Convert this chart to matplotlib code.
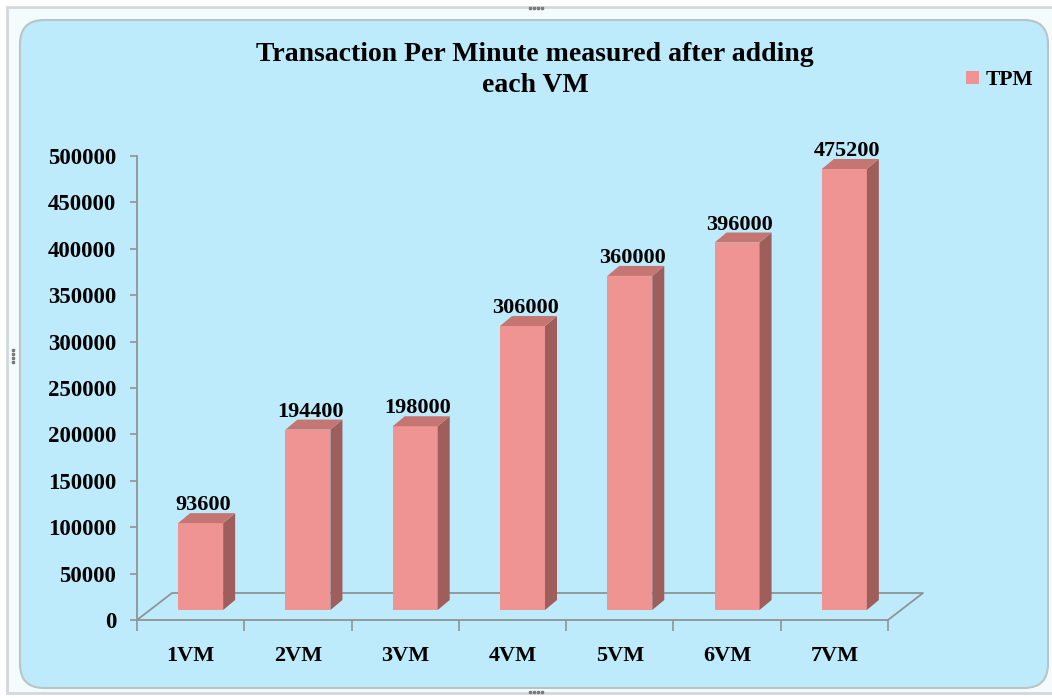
import matplotlib
matplotlib.use("Agg")
import matplotlib.pyplot as plt
from matplotlib.patches import FancyBboxPatch, Rectangle, Polygon, Patch

# data
categories = ['1VM', '2VM', '3VM', '4VM', '5VM', '6VM', '7VM']
tpm = [93600, 194400, 198000, 306000, 360000, 396000, 475200]
y_ticks = [0, 50000, 100000, 150000, 200000, 250000, 300000, 350000, 400000, 450000, 500000]
title = "Transaction Per Minute measured after adding\neach VM"

plt.rcParams['font.family'] = ['Liberation Serif', 'DejaVu Serif']
plt.rcParams['font.weight'] = 'bold'

W, H = 1052, 698
fig = plt.figure(figsize=(W / 100, H / 100), dpi=100, facecolor='white')

# background (pixel coords)
bg = fig.add_axes([0, 0, 1, 1])
bg.set_xlim(0, W)
bg.set_ylim(H, 0)
bg.axis('off')
bg.add_patch(Rectangle((7, 7), 1060, 686, facecolor='#F4FBFD', edgecolor='#D3D9DB', lw=2))
bg.add_patch(FancyBboxPatch((20, 20), 1028, 668, boxstyle='round,pad=0,rounding_size=24',
                            facecolor='#BDEBFC', edgecolor='#B9C4C8', lw=1.5))
for cx, cy, horiz in [(530, 8, True), (530, 692, True), (13, 350, False)]:
    for k in range(4):
        if horiz:
            bg.plot(cx + k * 4, cy, 's', ms=1.8, color='#7A7A7A')
        else:
            bg.plot(cx, cy + k * 4, 's', ms=1.8, color='#7A7A7A')

# plot area
x0, x1, ytop, ybot = 137, 888, 156, 620
ax = fig.add_axes([x0 / W, (H - ybot) / H, (x1 - x0) / W, (ybot - ytop) / H])
ax.set_facecolor('none')
ax.set_xlim(-0.5, len(categories) - 0.5)
ax.set_ylim(0, 500000)

px_x = (len(categories)) / (x1 - x0)       # category units per pixel
px_y = 500000 / (ybot - ytop)              # value units per pixel

front = '#EF9493'
side = '#9E5E5B'
top = '#C57673'
grey = '#8E9496'

# 3D floor
fdx, fdy = 35 * px_x, 27 * px_y
xa, xb = -0.5, len(categories) - 0.5
ax.plot([xa, xa + fdx, xb + fdx, xb], [0, fdy, fdy, 0], color=grey, lw=1.3, clip_on=False)

# bars
off_x = 10 * px_x
base = 10 * px_y
bw = 45 * px_x
ddx, ddy = 12 * px_x, 10 * px_y
xs = list(range(len(categories)))
ax.bar([x + off_x for x in xs], tpm, width=bw, bottom=base, color=front, zorder=3)
for x, v in zip(xs, tpm):
    xl = x + off_x - bw / 2
    xr = x + off_x + bw / 2
    t = base + v
    ax.add_patch(Polygon([(xr, base), (xr + ddx, base + ddy), (xr + ddx, t + ddy), (xr, t)],
                         closed=True, facecolor=side, edgecolor='none', zorder=3, clip_on=False))
    ax.add_patch(Polygon([(xl, t), (xr, t), (xr + ddx, t + ddy), (xl + ddx, t + ddy)],
                         closed=True, facecolor=top, edgecolor='none', zorder=3, clip_on=False))
    ax.text(x + off_x + ddx / 2 - 0.03, t + ddy - 2 * px_y, str(v), ha='center', va='bottom',
            fontsize=16, fontweight='bold', color='black', zorder=4, clip_on=False)

# axes styling
for s in ['top', 'right']:
    ax.spines[s].set_visible(False)
ax.spines['left'].set_color(grey)
ax.spines['bottom'].set_color(grey)
ax.spines['left'].set_linewidth(1.3)
ax.spines['bottom'].set_linewidth(1.3)
ax.set_yticks(y_ticks)
ax.set_yticklabels([str(v) for v in y_ticks])
ax.tick_params(axis='y', direction='out', length=5, width=1.2, color=grey, pad=10,
               labelsize=16.5)
ax.set_xticks(xs)
ax.set_xticklabels(categories)
ax.set_xticks([x - 0.5 for x in xs] + [len(xs) - 0.5], minor=True)
ax.tick_params(axis='x', which='major', length=0, pad=19, labelsize=16)
ax.tick_params(axis='x', which='minor', direction='out', length=8, width=1.2, color=grey)
for lbl in ax.get_xticklabels() + ax.get_yticklabels():
    lbl.set_fontweight('bold')

# title
fig.text(535 / W, 1 - 42 / H, title, ha='center', va='top', fontsize=20,
         fontweight='bold', linespacing=1.3)

# legend
fig.legend(handles=[Patch(facecolor=front, label='TPM')], loc='center right',
           bbox_to_anchor=(1042 / W, 1 - 80 / H), frameon=False,
           handlelength=0.6, handleheight=0.6, handletextpad=0.3, borderaxespad=0,
           prop={'size': 15.5, 'weight': 'bold', 'family': 'Liberation Serif'})

fig.savefig('out.png', dpi=100, facecolor='white')
